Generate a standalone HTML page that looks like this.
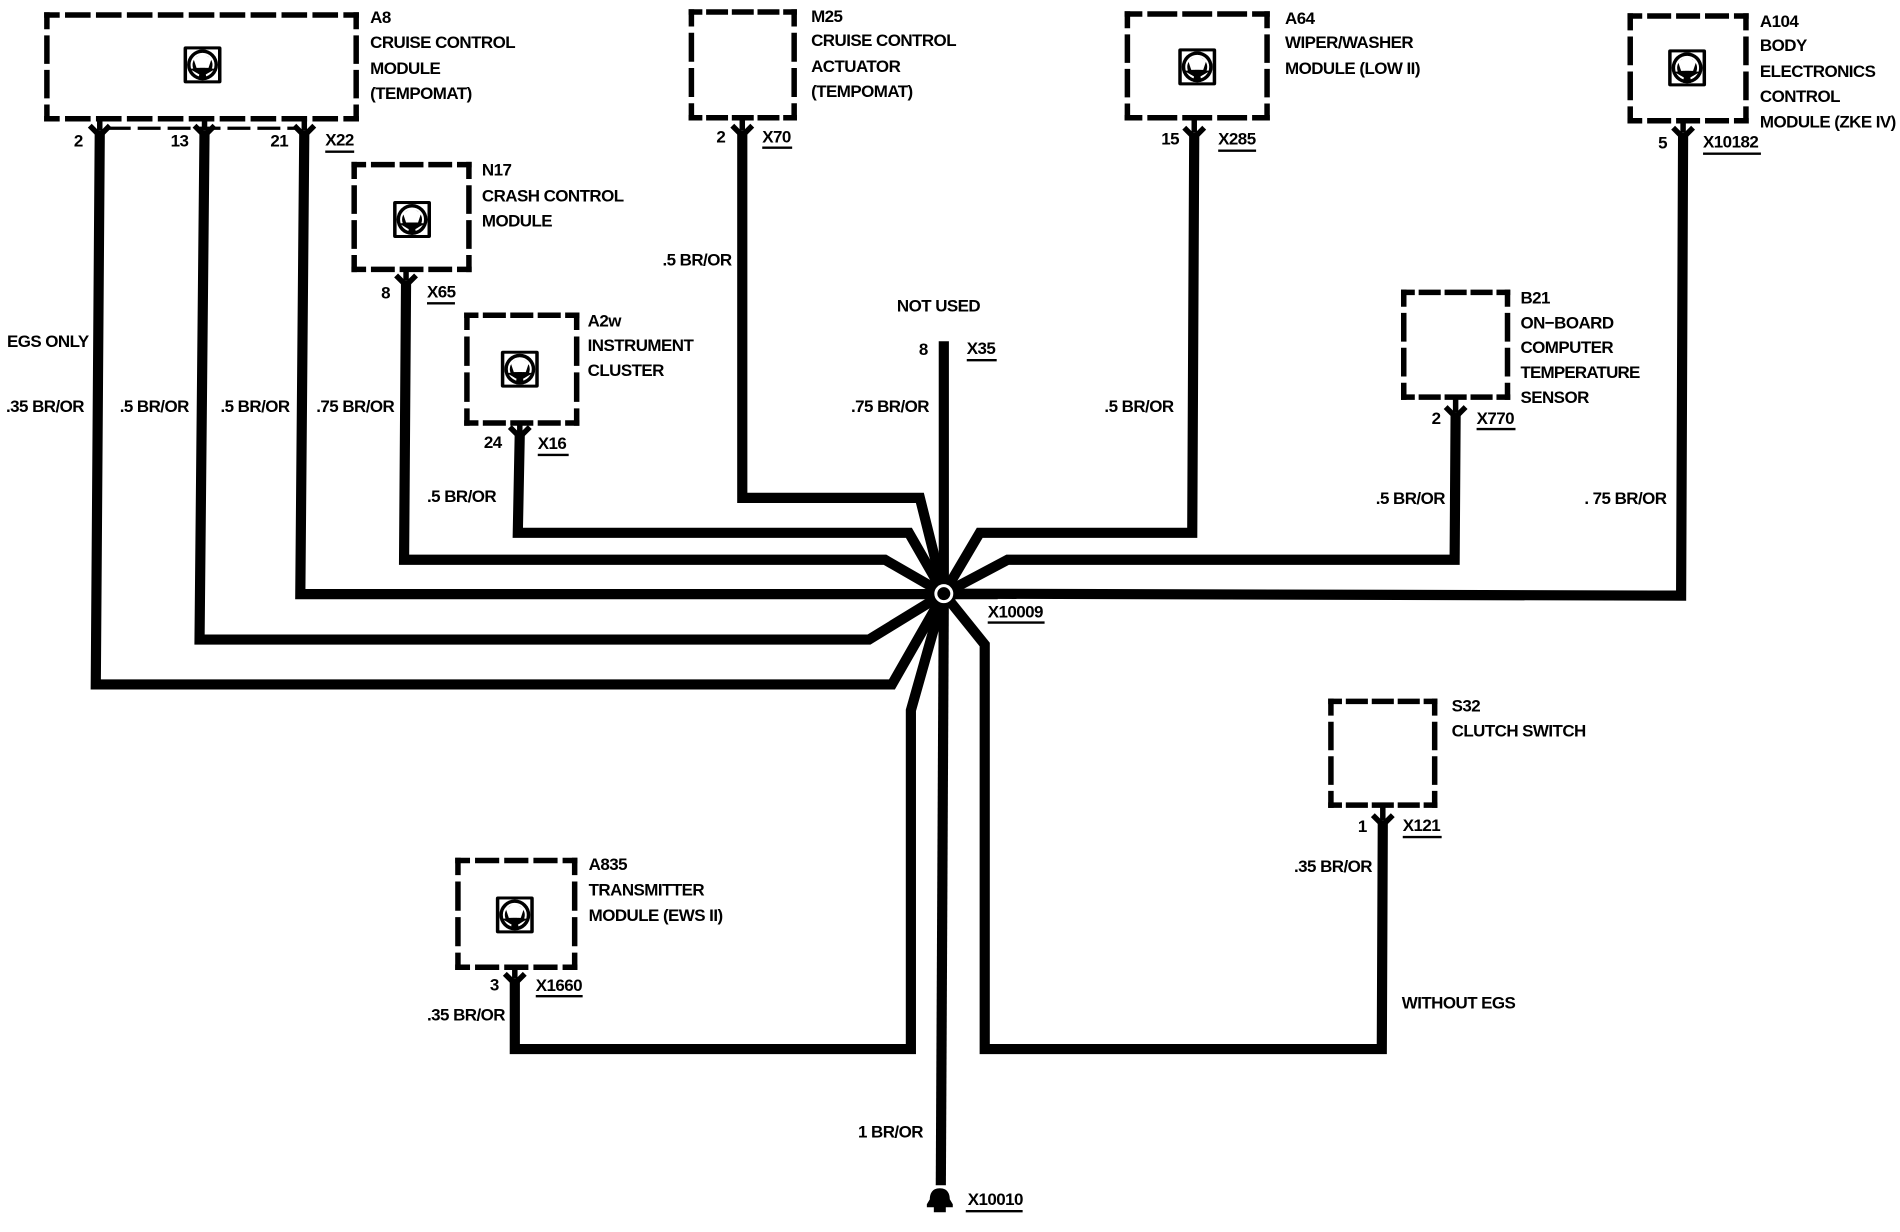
<!DOCTYPE html>
<html><head><meta charset="utf-8"><style>
html,body{margin:0;padding:0;background:#fff}
svg{display:block}
text{font-family:"Liberation Sans",sans-serif;font-weight:bold;font-size:17px;letter-spacing:-.55px;fill:#000}
.w{fill:none;stroke:#000;stroke-width:10.2;stroke-linejoin:miter}
.s{stroke:#000;stroke-width:5.5}
.b line{stroke:#000;stroke-width:5.5;fill:none;stroke-linecap:square}
.a{stroke-dasharray:6.5 3.5;stroke-dashoffset:3.25}
.t{stroke-dasharray:16 9;stroke-dashoffset:8}
.l{stroke-dasharray:17.5 7.5;stroke-dashoffset:8.75}
.v{stroke-dasharray:22.2 11.13;stroke-dashoffset:11.1}
.u{stroke:#000;stroke-width:2.4}
</style></head><body>
<svg width="1900" height="1232" viewBox="0 0 1904.4 1234.8" xmlns="http://www.w3.org/2000/svg">
<defs>
<g id="ic">
<rect x="-19" y="-18.5" width="38" height="37" rx="2" fill="#000"/>
<rect x="-15.5" y="-15.5" width="31" height="31" fill="#fff"/>
<circle r="15.5" fill="#000"/>
<circle r="11" fill="none" stroke="#fff" stroke-width="2"/>
<path d="M0,-12 L9,-6 L6,3 L-6,3 L-9,-6Z" fill="#fff"/>
<path d="M-2.5,3 L-4,15 L4,15 L2.5,3Z M-13,4 L-3,3 L-6,8Z M13,4 L3,3 L6,8Z" fill="#000"/>
</g>
<path id="f" d="M-10,-5 L0,5 L10,-5" fill="none" stroke="#000" stroke-width="5.5"/>
</defs>

<!-- dashed boxes -->
<g class="b">
<!-- A8 -->
<line class="a" x1="47" y1="15" x2="357" y2="15" pathLength="100"/><line class="a" x1="47" y1="119" x2="357" y2="119" pathLength="100"/>
<line class="v" x1="47" y1="15" x2="47" y2="119" pathLength="100"/><line class="v" x1="357" y1="15" x2="357" y2="119" pathLength="100"/>
<!-- N17 -->
<line class="t" x1="355" y1="165" x2="470" y2="165" pathLength="100"/><line class="t" x1="355" y1="270" x2="470" y2="270" pathLength="100"/>
<line class="v" x1="355" y1="165" x2="355" y2="270" pathLength="100"/><line class="v" x1="470" y1="165" x2="470" y2="270" pathLength="100"/>
<!-- A2w -->
<line class="t" x1="468" y1="316" x2="578" y2="316" pathLength="100"/><line class="t" x1="468" y1="424" x2="578" y2="424" pathLength="100"/>
<line class="v" x1="468" y1="316" x2="468" y2="424" pathLength="100"/><line class="v" x1="578" y1="316" x2="578" y2="424" pathLength="100"/>
<!-- M25 -->
<line class="t" x1="693" y1="12" x2="796" y2="12" pathLength="100"/><line class="t" x1="693" y1="118" x2="796" y2="118" pathLength="100"/>
<line class="v" x1="693" y1="12" x2="693" y2="118" pathLength="100"/><line class="v" x1="796" y1="12" x2="796" y2="118" pathLength="100"/>
<!-- A64 -->
<line class="l" x1="1130" y1="14" x2="1270" y2="14" pathLength="100"/><line class="l" x1="1130" y1="118" x2="1270" y2="118" pathLength="100"/>
<line class="v" x1="1130" y1="14" x2="1130" y2="118" pathLength="100"/><line class="v" x1="1270" y1="14" x2="1270" y2="118" pathLength="100"/>
<!-- A104 -->
<line class="t" x1="1634" y1="16" x2="1750" y2="16" pathLength="100"/><line class="t" x1="1634" y1="121" x2="1750" y2="121" pathLength="100"/>
<line class="v" x1="1634" y1="16" x2="1634" y2="121" pathLength="100"/><line class="v" x1="1750" y1="16" x2="1750" y2="121" pathLength="100"/>
<!-- B21 -->
<line class="t" x1="1407" y1="293" x2="1511" y2="293" pathLength="100"/><line class="t" x1="1407" y1="398" x2="1511" y2="398" pathLength="100"/>
<line class="v" x1="1407" y1="293" x2="1407" y2="398" pathLength="100"/><line class="v" x1="1511" y1="293" x2="1511" y2="398" pathLength="100"/>
<!-- S32 -->
<line class="t" x1="1334" y1="703" x2="1438" y2="703" pathLength="100"/><line class="t" x1="1334" y1="807" x2="1438" y2="807" pathLength="100"/>
<line class="v" x1="1334" y1="703" x2="1334" y2="807" pathLength="100"/><line class="v" x1="1438" y1="703" x2="1438" y2="807" pathLength="100"/>
<!-- A835 -->
<line class="t" x1="459" y1="862.5" x2="576" y2="862.5" pathLength="100"/><line class="t" x1="459" y1="969.5" x2="576" y2="969.5" pathLength="100"/>
<line class="v" x1="459" y1="862.5" x2="459" y2="969.5" pathLength="100"/><line class="v" x1="576" y1="862.5" x2="576" y2="969.5" pathLength="100"/>
</g>

<!-- thin dashed line under A8 -->
<line x1="108" y1="128.5" x2="298" y2="128.5" stroke="#000" stroke-width="3.2" stroke-dasharray="23 7"/>

<!-- icons -->
<use href="#ic" transform="translate(203,65)"/>
<use href="#ic" transform="translate(413,220)"/>
<use href="#ic" transform="translate(521,370)"/>
<use href="#ic" transform="translate(1200,67)"/>
<use href="#ic" transform="translate(1691,68)"/>
<use href="#ic" transform="translate(516,917)"/>

<!-- stubs -->
<g class="s">
<line x1="100" y1="119" x2="100" y2="131"/><line x1="205" y1="119" x2="205" y2="131"/><line x1="305" y1="119" x2="305" y2="131"/>
<line x1="407" y1="270" x2="407" y2="281"/><line x1="521" y1="424" x2="521" y2="433"/><line x1="744" y1="118" x2="744" y2="131"/>
<line x1="1197" y1="118" x2="1197" y2="133"/><line x1="1687" y1="121" x2="1687" y2="133"/><line x1="1459" y1="398" x2="1459" y2="413"/>
<line x1="1386" y1="807" x2="1386" y2="822"/><line x1="516" y1="969" x2="516" y2="981"/>
</g>

<!-- wires -->
<g class="w">
<polyline points="100,131 96,686 894,686 946,595"/>
<polyline points="205,131 200,641 871,641 946,595"/>
<polyline points="305,131 301,595.5 1000,595.5"/>
<polyline points="407,281 405,561 887,561 946,595"/>
<polyline points="521,433 519,534 911,534 946,595"/>
<polyline points="744,131 744,499 922,499 946,595"/>
<polyline points="946,342 946,600"/>
<polyline points="1197,133 1195,534 982,534 946,595"/>
<polyline points="1459,413 1458,561 1010,561 946,595"/>
<polyline points="1687,133 1685,597 946,595"/>
<polyline points="516,981 516,1051.5 913,1051.5 913,712 946,595"/>
<polyline points="1386,822 1385,1051.5 987,1051.5 987,646 946,595"/>
<polyline points="946,595 943,1188"/>
</g>
<circle cx="946" cy="595" r="13" fill="#000"/>
<circle cx="946" cy="595" r="8" fill="#000" stroke="#fff" stroke-width="3"/>

<!-- forks -->
<use href="#f" transform="translate(100,131)"/>
<use href="#f" transform="translate(205,131)"/>
<use href="#f" transform="translate(305,131)"/>
<use href="#f" transform="translate(407,281)"/>
<use href="#f" transform="translate(521,433)"/>
<use href="#f" transform="translate(744,131)"/>
<use href="#f" transform="translate(1197,133)"/>
<use href="#f" transform="translate(1687,133)"/>
<use href="#f" transform="translate(1459,413)"/>
<use href="#f" transform="translate(1386,822)"/>
<use href="#f" transform="translate(516,981)"/>

<!-- ground -->
<g transform="translate(2,3)"><path d="M940,1188 C948,1188 950,1194 950,1199 L953,1204 L953,1207 L946,1207 L946,1212 L934,1212 L934,1207 L927,1207 L927,1204 L930,1199 C930,1194 932,1188 940,1188Z" fill="#000"/></g>

<!-- component labels -->
<text x="371" y="23">A8</text><text x="371" y="48">CRUISE CONTROL</text><text x="371" y="74">MODULE</text><text x="371" y="99">(TEMPOMAT)</text>
<text x="813" y="22">M25</text><text x="813" y="46">CRUISE CONTROL</text><text x="813" y="72">ACTUATOR</text><text x="813" y="97">(TEMPOMAT)</text>
<text x="1288" y="24">A64</text><text x="1288" y="48">WIPER/WASHER</text><text x="1288" y="74">MODULE (LOW II)</text>
<text x="1764" y="27">A104</text><text x="1764" y="51">BODY</text><text x="1764" y="77">ELECTRONICS</text><text x="1764" y="102">CONTROL</text><text x="1764" y="128">MODULE (ZKE IV)</text>
<text x="483" y="176">N17</text><text x="483" y="202">CRASH CONTROL</text><text x="483" y="227">MODULE</text>
<text x="589" y="327">A2w</text><text x="589" y="352">INSTRUMENT</text><text x="589" y="377">CLUSTER</text>
<text x="1524" y="304">B21</text><text x="1524" y="329">ON−BOARD</text><text x="1524" y="354">COMPUTER</text><text x="1524" y="379" style="letter-spacing:-.8px">TEMPERATURE</text><text x="1524" y="404">SENSOR</text>
<text x="1455" y="713">S32</text><text x="1455" y="738">CLUTCH SWITCH</text>
<text x="590" y="872">A835</text><text x="590" y="897.5">TRANSMITTER</text><text x="590" y="923">MODULE (EWS II)</text>

<!-- pins -->
<text x="74" y="147">2</text><text x="171" y="147">13</text><text x="271" y="147">21</text>
<text x="326" y="146">X22</text><line class="u" x1="326" y1="152" x2="355" y2="152"/>
<text x="382" y="299">8</text>
<text x="428" y="298">X65</text><line class="u" x1="428" y1="304" x2="456" y2="304"/>
<text x="485" y="449">24</text>
<text x="539" y="450">X16</text><line class="u" x1="539" y1="456" x2="570" y2="456"/>
<text x="718" y="143">2</text>
<text x="764" y="143">X70</text><line class="u" x1="764" y1="148" x2="794" y2="148"/>
<text x="1164" y="145">15</text>
<text x="1221" y="145">X285</text><line class="u" x1="1221" y1="151" x2="1259" y2="151"/>
<text x="1662" y="149">5</text>
<text x="1707" y="148">X10182</text><line class="u" x1="1707" y1="154" x2="1765" y2="154"/>
<text x="1435" y="425">2</text>
<text x="1480" y="425">X770</text><line class="u" x1="1480" y1="430" x2="1519" y2="430"/>
<text x="1361" y="834">1</text>
<text x="1406" y="833">X121</text><line class="u" x1="1406" y1="839" x2="1445" y2="839"/>
<text x="491" y="993">3</text>
<text x="537" y="993.5">X1660</text><line class="u" x1="537" y1="998.5" x2="584" y2="998.5"/>
<text x="921" y="356">8</text>
<text x="969" y="355">X35</text><line class="u" x1="969" y1="361" x2="999" y2="361"/>
<text x="899" y="312">NOT USED</text>
<text x="990" y="619">X10009</text><line class="u" x1="990" y1="624" x2="1047" y2="624"/>
<text x="970" y="1208">X10010</text><line class="u" x1="968" y1="1214" x2="1025" y2="1214"/>

<!-- wire labels -->
<text x="7" y="348">EGS ONLY</text>
<text x="6" y="413">.35 BR/OR</text>
<text x="120" y="413">.5 BR/OR</text>
<text x="221" y="413">.5 BR/OR</text>
<text x="317" y="413">.75 BR/OR</text>
<text x="428" y="503">.5 BR/OR</text>
<text x="664" y="266">.5 BR/OR</text>
<text x="853" y="413">.75 BR/OR</text>
<text x="1107" y="413">.5 BR/OR</text>
<text x="1379" y="505">.5 BR/OR</text>
<text x="1588" y="505">. 75 BR/OR</text>
<text x="1297" y="874">.35 BR/OR</text>
<text x="1405" y="1011">WITHOUT EGS</text>
<text x="428" y="1023">.35 BR/OR</text>
<text x="860" y="1140">1 BR/OR</text>
</svg>
</body></html>
